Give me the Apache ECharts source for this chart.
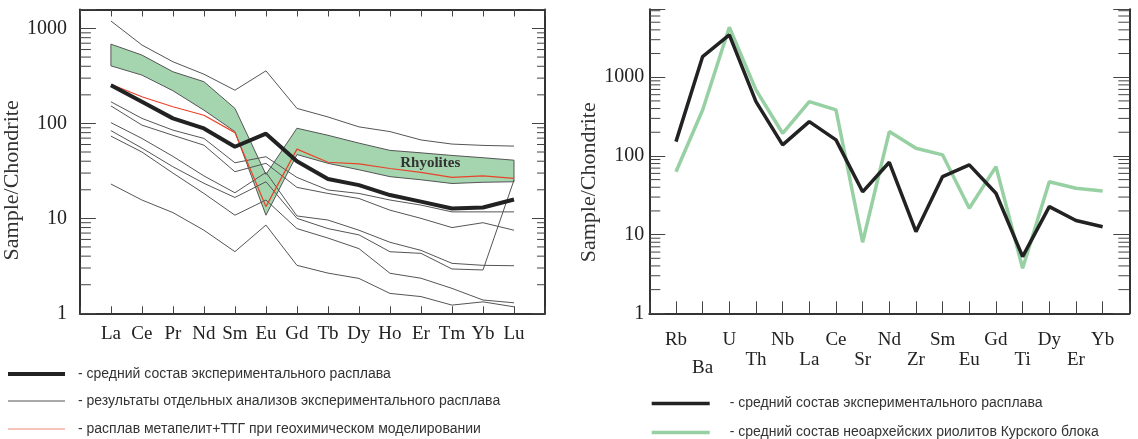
<!DOCTYPE html>
<html><head><meta charset="utf-8">
<script src="https://cdn.jsdelivr.net/npm/echarts@6/dist/echarts.min.js"></script>
<style>html,body{margin:0;padding:0;background:#fff}#c{width:1138px;height:439px}</style>
</head><body><div id="c"></div>
<script>
// ---- Left panel: REE chondrite-normalized ----
const REE = ['La','Ce','Pr','Nd','Sm','Eu','Gd','Tb','Dy','Ho','Er','Tm','Yb','Lu'];
const reeMean  = [253,169,113,88.6,56.8,78,40,26,22.4,17.6,15,12.7,13,15.8];
const reeModel = [259,191,150,122,80,13.3,53.6,39,37.5,33.5,30.5,27,28,26.4];
const rhyUpper = [684,525,350,275,144,29,89,75,62,52,49,46,43.5,41];
const rhyLower = [404,323,221,138,82,10.8,47,38,32.5,27.5,25.5,23.3,24,24.3];
const sample1 = [1200,670,446,330,224,358,144,117,92,82,67,60.6,58.7,57.7];
const sample2 = [169,113,85,69.5,38.5,44.6,27,19.9,18.3,15.6,13.8,11.7,11.7,11.7];
const sample3 = [153,96,75,59,31,38,21.2,18.3,16.2,12.2,10,8,9,7.5];
const sample4 = [102,69.5,45,28,18.6,30.5,10.6,9.6,7.5,5.6,4.6,3.36,3.2,3.17];
const sample5 = [84,55,35,23.4,16.6,24.3,10,7.8,6.7,4.45,4.28,2.93,2.86,25.3];
const sample6 = [73.5,50,30,18.3,10.8,15.6,7.8,6.2,4.8,2.64,2.34,1.83,1.38,1.29];
const sample7 = [23,15.6,11.5,7.5,4.46,8.5,3.2,2.65,2.33,1.62,1.5,1.22,1.32,1.17];
const leftMinorTicks = [2,3,4,5,6,7,8,9,20,30,40,50,60,70,80,90,200,300,400,500,600,700,800,900];

// ---- Right panel: trace elements ----
const TRACE = ['Rb','Ba','U','Th','Nb','La','Ce','Sr','Nd','Zr','Sm','Eu','Gd','Ti','Dy','Er','Yb'];
const traceMelt   = [152,1830,3450,490,138,273,160,35,83,10.9,54.6,77,33.5,5.25,22.7,15.1,12.6];
const traceKursk  = [63,384,4320,690,194,490,384,8,204,125,103,21.6,73,3.73,47,38.8,35.9];
const rightMinorTicks = [2,3,4,5,6,7,8,9,20,30,40,50,60,70,80,90,200,300,400,500,600,700,800,900,2000,3000,4000,5000,6000,7000];

const NAME_MEAN = '- средний состав экспериментального расплава';
const NAME_SAMPLES = '- результаты отдельных анализов экспериментального расплава';
const NAME_MODEL = '- расплав метапелит+ТТГ при геохимическом моделировании';
const NAME_KURSK = '- средний состав неоархейских риолитов Курского блока';

const SERIF = "'Liberation Serif','Times New Roman',serif";
const SANS = "'Liberation Sans',Arial,sans-serif";
const pairs = arr => arr.map((v, i) => [i, v]);
const pow10Label = v => { const l = Math.log10(v); return Math.abs(l - Math.round(l)) < 1e-6 ? String(Math.round(v)) : ''; };

function minorTicks(xi, yi, values, xL, xR, lenL, lenR) {
  return {
    type: 'custom', xAxisIndex: xi, yAxisIndex: yi, silent: true, z: 5,
    data: values.map(v => [xL, v]),
    renderItem(params, api) {
      const v = api.value(1);
      const pL = api.coord([xL, v]);
      const pR = api.coord([xR, v]);
      return { type: 'group', children: [
        { type: 'line', shape: { x1: pL[0], y1: pL[1], x2: pL[0] + lenL, y2: pL[1] }, style: { stroke: '#444', lineWidth: 1 } },
        { type: 'line', shape: { x1: pR[0], y1: pR[1], x2: pR[0] - lenR, y2: pR[1] }, style: { stroke: '#444', lineWidth: 1 } }
      ] };
    }
  };
}

function thin(arr) {
  return { type: 'line', name: NAME_SAMPLES, xAxisIndex: 0, yAxisIndex: 0, data: pairs(arr), symbol: 'none', z: 3,
    lineStyle: { color: '#555', width: 1 }, itemStyle: { color: '#555' } };
}

function legendItem(name, left, top, w, h, pad) {
  return { data: [name], orient: 'horizontal', left: left, top: top, icon: 'rect',
    itemWidth: w, itemHeight: h, selectedMode: false, padding: 0,
    textStyle: { fontFamily: SANS, fontSize: 14, color: '#333', padding: [0, 0, 0, pad] } };
}

const axisLineStyle = { onZero: false, lineStyle: { color: '#333', width: 2 } };

const option = {
  animation: false,
  backgroundColor: '#fff',
  grid: [
    { left: 72.7, top: 9.5, width: 472.3, height: 303.8 },
    { left: 649.3, top: 9.3, width: 480, height: 304 }
  ],
  xAxis: [
    { gridIndex: 0, type: 'value', min: -1, max: 14, interval: 1, position: 'bottom',
      axisLine: axisLineStyle, splitLine: { show: false },
      axisTick: { inside: true, length: 7, lineStyle: { color: '#444' } },
      axisLabel: { margin: 11, lineHeight: 20, fontFamily: SERIF, fontSize: 19, color: '#222',
        formatter: v => { const i = Math.round(v); return (i >= 0 && i < REE.length) ? REE[i] : ''; } } },
    { gridIndex: 0, type: 'value', min: -1, max: 14, interval: 1, position: 'top',
      axisLine: axisLineStyle, splitLine: { show: false },
      axisTick: { inside: true, length: 7, lineStyle: { color: '#444' } }, axisLabel: { show: false } },
    { gridIndex: 1, type: 'value', min: -1, max: 17, interval: 1, position: 'bottom',
      axisLine: axisLineStyle, splitLine: { show: false },
      axisTick: { inside: true, length: 12, lineStyle: { color: '#444' } },
      axisLabel: { margin: 17, lineHeight: 20, fontFamily: SERIF, fontSize: 19, color: '#222',
        rich: { b: { lineHeight: 36, fontFamily: SERIF, fontSize: 19, color: '#222' } },
        formatter: v => {
          const i = Math.round(v);
          if (i < 0 || i >= TRACE.length) return '';
          if (i === 1) return '\n{b|' + TRACE[i] + '}';
          return i % 2 === 0 ? TRACE[i] : '\n' + TRACE[i];
        } } }
  ],
  yAxis: [
    { gridIndex: 0, type: 'log', min: 1, max: 1585, position: 'left',
      axisLine: axisLineStyle, splitLine: { show: false },
      axisTick: { inside: true, length: 16, lineStyle: { color: '#444' } },
      axisLabel: { margin: 13, fontFamily: SERIF, fontSize: 20, color: '#222', formatter: pow10Label },
      name: 'Sample/Chondrite', nameLocation: 'middle', nameGap: 44, nameRotate: 90,
      nameTextStyle: { fontFamily: SERIF, fontSize: 22, color: '#333', padding: [0, 38, 0, 0] } },
    { gridIndex: 0, type: 'log', min: 1, max: 1585, position: 'right',
      axisLine: axisLineStyle, splitLine: { show: false },
      axisTick: { inside: true, length: 13, lineStyle: { color: '#444' } }, axisLabel: { show: false } },
    { gridIndex: 1, type: 'log', min: 1, max: 7300, position: 'left',
      axisLine: axisLineStyle, splitLine: { show: false },
      axisTick: { inside: true, length: 16, lineStyle: { color: '#444' } },
      axisLabel: { margin: 5, fontFamily: SERIF, fontSize: 20, color: '#222', formatter: pow10Label },
      name: 'Sample/Chondrite', nameLocation: 'middle', nameGap: 42, nameRotate: 90,
      nameTextStyle: { fontFamily: SERIF, fontSize: 22, color: '#333', padding: [0, 42, 0, 0] } },
    { gridIndex: 1, type: 'log', min: 1, max: 7300, position: 'right',
      axisLine: axisLineStyle, splitLine: { show: false },
      axisTick: { inside: true, length: 16, lineStyle: { color: '#444' } }, axisLabel: { show: false } }
  ],
  legend: [
    legendItem(NAME_MEAN, 8, 367, 57, 4, 8),
    legendItem(NAME_SAMPLES, 8, 394, 57, 1, 8),
    legendItem(NAME_MODEL, 8, 422, 57, 1, 8),
    legendItem(NAME_MEAN, 651.7, 396.5, 58, 3.5, 15),
    legendItem(NAME_KURSK, 651.7, 425.5, 58, 3.5, 15)
  ],
  series: [
    { type: 'custom', name: 'Rhyolites', xAxisIndex: 0, yAxisIndex: 0, z: 1, silent: true,
      data: REE.map((_, i) => [i, rhyLower[i], rhyUpper[i]]),
      encode: { x: 0, y: [1, 2] },
      renderItem(params, api) {
        if (params.dataIndex !== 0) return null;
        const pts = [];
        for (let i = 0; i < REE.length; i++) pts.push(api.coord([i, rhyUpper[i]]));
        for (let i = REE.length - 1; i >= 0; i--) pts.push(api.coord([i, rhyLower[i]]));
        return { type: 'polygon', shape: { points: pts }, style: { fill: '#a4d5af', stroke: '#555', lineWidth: 1 } };
      } },
    thin(sample1), thin(sample2), thin(sample3), thin(sample4), thin(sample5), thin(sample6), thin(sample7),
    { type: 'line', name: NAME_MODEL, xAxisIndex: 0, yAxisIndex: 0, data: pairs(reeModel), symbol: 'none', z: 4,
      lineStyle: { color: '#e8442a', width: 1.2 }, itemStyle: { color: '#f08a78' },
      markPoint: { symbol: 'circle', symbolSize: 0, silent: true,
        label: { show: true, formatter: 'Rhyolites', fontFamily: SERIF, fontWeight: 'bold', fontSize: 15, color: '#333' },
        data: [{ coord: [10.3, 38] }] } },
    { type: 'line', name: NAME_MEAN, xAxisIndex: 0, yAxisIndex: 0, data: pairs(reeMean), symbol: 'none', z: 6,
      lineStyle: { color: '#222', width: 4 }, itemStyle: { color: '#222' } },
    minorTicks(0, 0, leftMinorTicks, -1, 14, 11, 8),
    // right panel
    { type: 'line', name: NAME_KURSK, xAxisIndex: 2, yAxisIndex: 2, data: pairs(traceKursk), symbol: 'none', z: 4,
      lineStyle: { color: '#97d0a3', width: 3.5 }, itemStyle: { color: '#97d0a3' } },
    { type: 'line', name: NAME_MEAN, xAxisIndex: 2, yAxisIndex: 2, data: pairs(traceMelt), symbol: 'none', z: 5,
      lineStyle: { color: '#222', width: 3.5 }, itemStyle: { color: '#222' } },
    minorTicks(2, 2, rightMinorTicks, -1, 17, 11, 11)
  ]
};
echarts.init(document.getElementById('c')).setOption(option);
</script>
</body></html>
